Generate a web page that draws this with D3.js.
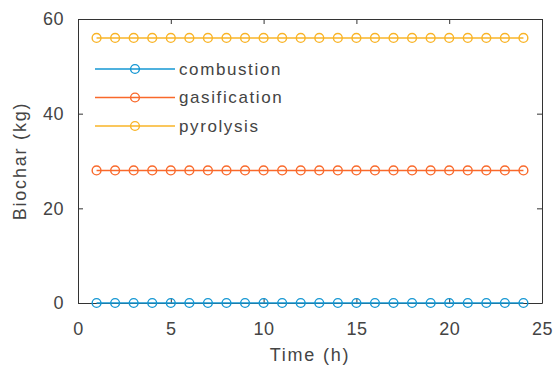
<!DOCTYPE html>
<html>
<head>
<meta charset="utf-8">
<script src="https://cdn.jsdelivr.net/npm/d3@7"></script>
<style>
  body { margin: 0; background: #fff; }
  text { font-family: "Liberation Sans", Arial, sans-serif; fill: #444; }
</style>
</head>
<body>
<div id="vis"></div>
<script>
var hours = d3.range(1, 25);
var seriesNames = ["combustion", "gasification", "pyrolysis"];
var combustion = [0,0,0,0,0,0,0,0,0,0,0,0,0,0,0,0,0,0,0,0,0,0,0,0];
var gasification = [28,28,28,28,28,28,28,28,28,28,28,28,28,28,28,28,28,28,28,28,28,28,28,28];
var pyrolysis = [56,56,56,56,56,56,56,56,56,56,56,56,56,56,56,56,56,56,56,56,56,56,56,56];
var xTicks = [0, 5, 10, 15, 20, 25];
var yTicks = [0, 20, 40, 60];

var colours = ["#1597d3", "#f9692b", "#f9b427"];
var series = [combustion, gasification, pyrolysis];

var W = 555, H = 375;
var margin = {top: 19, right: 13, bottom: 72, left: 78};
var width = W - margin.left - margin.right,
    height = H - margin.top - margin.bottom;

var svg = d3.select("#vis").append("svg")
  .attr("width", W).attr("height", H);

var g = svg.append("g")
  .attr("transform", "translate(" + margin.left + "," + margin.top + ")");

var x = d3.scaleLinear().domain([0, 25]).range([0, width]);
var y = d3.scaleLinear().domain([0, 60]).range([height, 0]);

// axes, MATLAB style with ticks inside
var axisCol = "#333";
var xAxis = g.append("g").attr("transform", "translate(0," + height + ")")
  .call(d3.axisBottom(x).tickValues(xTicks).tickSizeInner(-5).tickSizeOuter(0).tickPadding(19));
var yAxis = g.append("g")
  .call(d3.axisLeft(y).tickValues(yTicks).tickSizeInner(-5).tickSizeOuter(0).tickPadding(14));
var xTop = g.append("g")
  .call(d3.axisTop(x).tickValues(xTicks).tickSizeInner(-5).tickSizeOuter(0).tickFormat(""));
var yRight = g.append("g").attr("transform", "translate(" + width + ",0)")
  .call(d3.axisRight(y).tickValues(yTicks).tickSizeInner(-5).tickSizeOuter(0).tickFormat(""));

[xAxis, yAxis, xTop, yRight].forEach(function (a) {
  a.select(".domain").attr("stroke", axisCol).attr("stroke-width", 1);
  a.selectAll(".tick line").attr("stroke", axisCol);
  a.selectAll(".tick text").style("font-size", "18px").style("letter-spacing", "0.5px")
    .attr("fill", "#444");
});

// axis labels
svg.append("text")
  .attr("x", margin.left + width / 2).attr("y", 361)
  .attr("text-anchor", "middle").style("font-size", "18px").style("letter-spacing", "1.8px")
  .text("Time (h)");
svg.append("text")
  .attr("transform", "translate(26," + (margin.top + height / 2) + ") rotate(-90)")
  .attr("text-anchor", "middle").style("font-size", "18px").style("letter-spacing", "1.8px")
  .text("Biochar (kg)");

var line = d3.line()
  .x(function (d, i) { return x(hours[i]); })
  .y(function (d) { return y(d); });

series.forEach(function (s, k) {
  g.append("path").datum(s)
    .attr("d", line)
    .attr("fill", "none")
    .attr("stroke", colours[k])
    .attr("stroke-width", 1.6);
  g.selectAll(".m" + k).data(s).enter()
    .append("circle")
    .attr("cx", function (d, i) { return x(hours[i]); })
    .attr("cy", function (d) { return y(d); })
    .attr("r", 4.4)
    .attr("fill", "none")
    .attr("stroke", colours[k])
    .attr("stroke-width", 1.4);
});

// legend, no box
var legend = g.append("g").attr("transform", "translate(17,50)");
seriesNames.forEach(function (name, k) {
  var row = legend.append("g").attr("transform", "translate(0," + (k * 28.5) + ")");
  row.append("line").attr("x1", 0).attr("x2", 80).attr("y1", 0).attr("y2", 0)
    .attr("stroke", colours[k]).attr("stroke-width", 1.6);
  row.append("circle").attr("cx", 40).attr("cy", 0).attr("r", 4.4)
    .attr("fill", "none").attr("stroke", colours[k]).attr("stroke-width", 1.4);
  row.append("text").attr("x", 84).attr("y", 0).attr("dy", "0.35em")
    .style("font-size", "17px").style("letter-spacing", "1.6px").text(name);
});
</script>
</body>
</html>
